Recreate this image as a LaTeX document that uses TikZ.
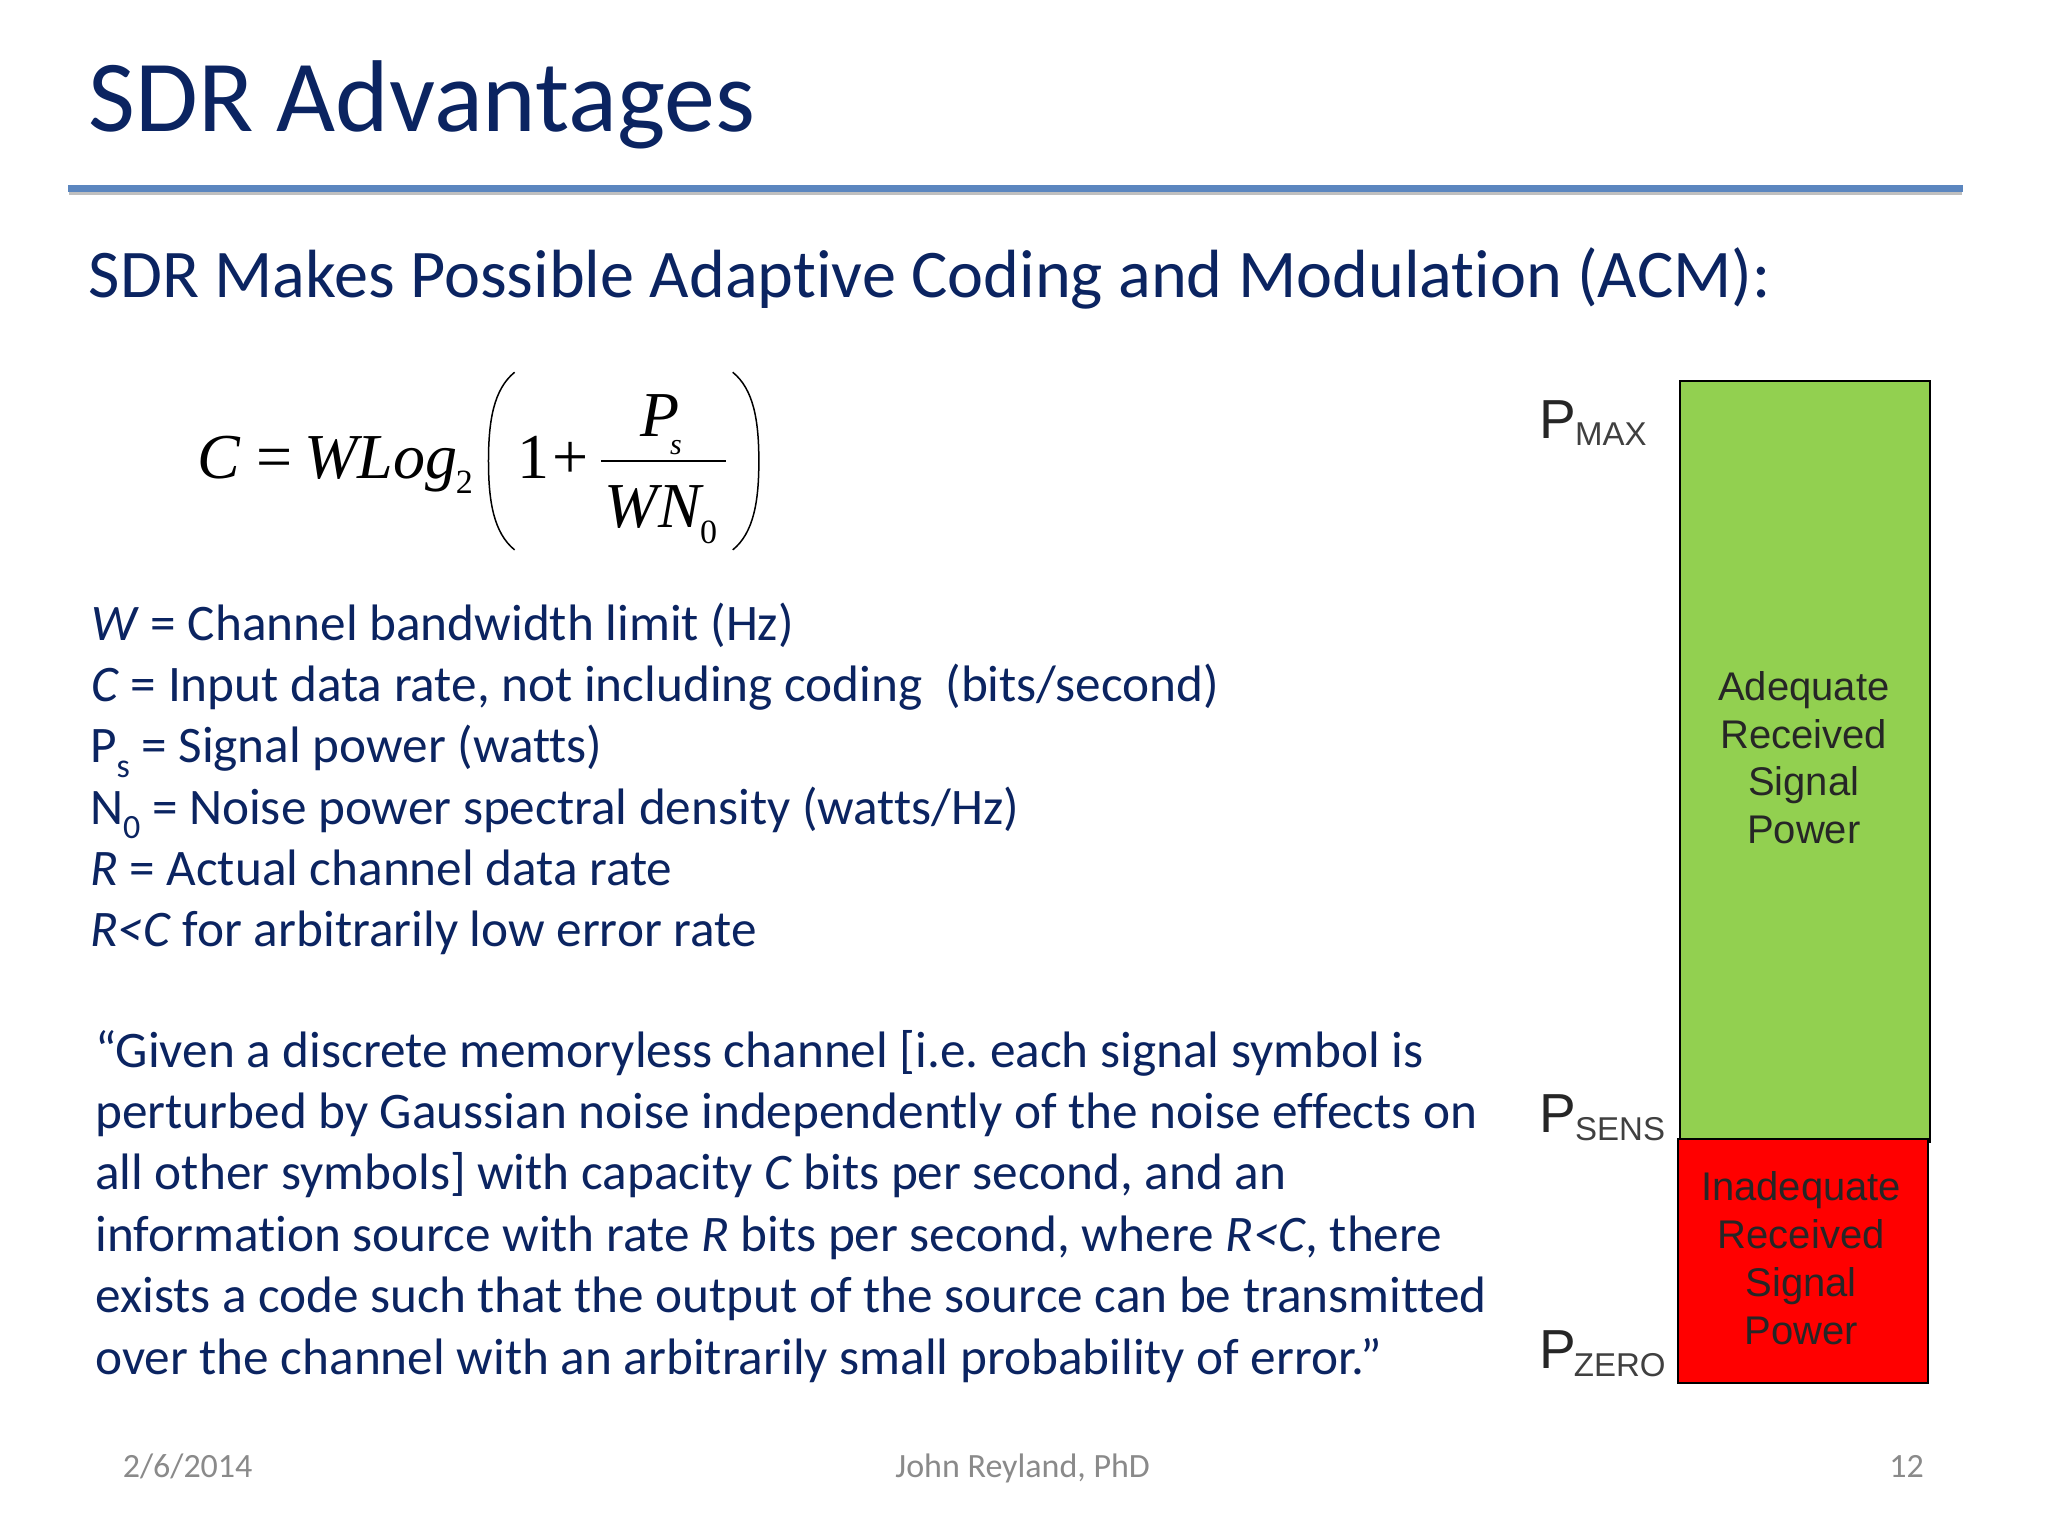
\documentclass[tikz,border=0pt]{standalone}
\usepackage{fontspec}
\setmainfont[Ligatures=NoCommon]{Carlito}
\newfontfamily\serifF{Liberation Serif}
\newfontfamily\sansF{Liberation Sans}
\definecolor{navy}{HTML}{0B2461}
\definecolor{rulec}{HTML}{5B86BF}
\definecolor{footc}{HTML}{8A8A8A}
\definecolor{barg}{HTML}{92D050}
\definecolor{barr}{HTML}{FF0000}
\newcommand{\fs}[1]{\fontsize{#1}{#1}\selectfont}
\newcommand{\subb}[1]{\raisebox{-0.28em}{\fs{34}#1}}
\tikzset{
  x=1.30612pt,y=-1.30612pt,
  txt/.style={anchor=base west,inner sep=0pt,outer sep=0pt,text=navy,font=\frenchspacing\fs{51.25}},
  foot/.style={inner sep=0pt,outer sep=0pt,text=footc,font=\fs{34}},
  mth/.style={anchor=base west,inner sep=0pt,outer sep=0pt,text=black,font=\serifF\itshape\fs{64}},
  mthr/.style={anchor=base west,inner sep=0pt,outer sep=0pt,text=black,font=\serifF\fs{64}},
  plab/.style={anchor=base west,inner sep=0pt,outer sep=0pt,text=black!85,font=\sansF\fs{55}},
  psub/.style={anchor=base west,inner sep=0pt,outer sep=0pt,text=black!75,font=\sansF\fs{33}},
  bartxt/.style={inner sep=0pt,outer sep=0pt,align=center,text=black!85,font=\sansF\fs{40}},
}
\begin{document}
\begin{tikzpicture}
\useasboundingbox (0,0) rectangle (1568,1176);
\fill[white] (0,0) rectangle (1568,1176);
% title and rule
\node[txt,font=\fs{102}] (title) at (68,101) {SDR Advantages};
\fill[black!25] (53,146) rectangle (1502,149);
\fill[rulec] (52,142) rectangle (1503,147);
\node[txt,font=\fs{68.2}] (sub) at (68,228) {SDR Makes Possible Adaptive Coding and Modulation (ACM):};
% formula
\node[mth] (fC) at (151,366) {C};
\node[mthr] (fEq) at (196,366) {=};
\node[mth] (fW) at (233,366) {WLog};
\node[mthr,font=\serifF\fs{34}] (f2) at (349,378) {2};
\node[mthr] (f1) at (396,366) {1};
\node[mthr] (fP) at (423,366) {+};
\node[mth] (fPs) at (490,334) {P};
\node[mth,font=\serifF\itshape\fs{30}] (fs) at (513,348) {s};
\node[mth] (fWN) at (463,404) {WN};
\node[mthr,font=\serifF\fs{34}] (f0) at (536,416) {0};
\draw[black,line width=1.7pt] (460,353) -- (556,353);
\draw[black,line width=1.5pt] (394,285) .. controls (378,298) and (374,322) .. (374,353) .. controls (374,384) and (378,408) .. (394,421);
\draw[black,line width=1.5pt] (561,285) .. controls (577,298) and (581,322) .. (581,353) .. controls (581,384) and (577,408) .. (561,421);
% definitions
\node[txt] (l1) at (70,490) {\textit{W} = Channel bandwidth limit (Hz)};
\node[txt] (l2) at (70,537) {\textit{C} = Input data rate, not including coding\ \ (bits/second)};
\node[txt] (l3) at (69,584) {P\subb{s} = Signal power (watts)};
\node[txt] (l4) at (69,631) {N\subb{0} = Noise power spectral density (watts/Hz)};
\node[txt] (l5) at (69,678) {\textit{R} = Actual channel data rate};
\node[txt] (l6) at (69,725) {\textit{R<C} for arbitrarily low error rate};
% quote
\node[txt] (q1) at (73,817) {“Given a discrete memoryless channel [i.e. each signal symbol is};
\node[txt] (q2) at (73,864) {perturbed by Gaussian noise independently of the noise effects on};
\node[txt] (q3) at (73,911) {all other symbols] with capacity \textit{C} bits per second, and an};
\node[txt] (q4) at (73,958) {information source with rate \textit{R} bits per second, where \textit{R<C}, there};
\node[txt] (q5) at (73,1005) {exists a code such that the output of the source can be transmitted};
\node[txt] (q6) at (73,1052) {over the channel with an arbitrarily small probability of error.”};
% bars
\draw[black,line width=2pt,fill=barg] (1286,291.5) rectangle (1477.5,874);
\draw[black,line width=2pt,fill=barr] (1284.5,872) rectangle (1476,1059);
\node[bartxt,anchor=base] (g1) at (1381,536) {Adequate};
\node[bartxt,anchor=base] (g2) at (1381,573) {Received};
\node[bartxt,anchor=base] (g3) at (1381,609) {Signal};
\node[bartxt,anchor=base] (g4) at (1381,646) {Power};
\node[bartxt,anchor=base] (r1) at (1379,919) {Inadequate};
\node[bartxt,anchor=base] (r2) at (1379,956) {Received};
\node[bartxt,anchor=base] (r3) at (1379,993) {Signal};
\node[bartxt,anchor=base] (r4) at (1379,1029) {Power};
% power labels
\node[plab] (pm) at (1179,336) {P};
\node[psub] (pms) at (1206,341) {MAX};
\node[plab] (ps) at (1179,867) {P};
\node[psub] (pss) at (1206,873) {SENS};
\node[plab] (pz) at (1179,1048) {P};
\node[psub] (pzs) at (1205,1054) {ZERO};
% footer
\node[foot,anchor=base west] (fd) at (94,1131) {2/6/2014};
\node[foot,anchor=base] (fa) at (783,1131) {John Reyland, PhD};
\node[foot,anchor=base east] (fn) at (1473,1131) {12};
\end{tikzpicture}
\end{document}
